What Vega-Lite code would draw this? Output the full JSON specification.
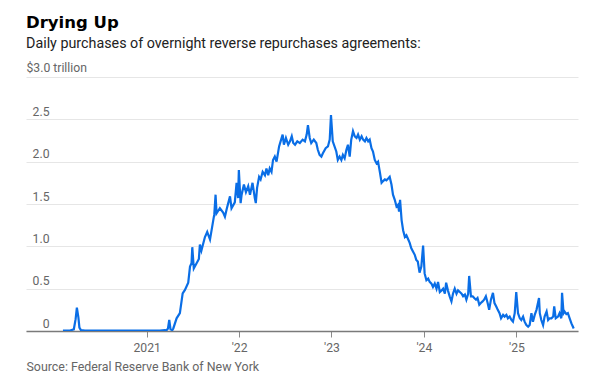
{
  "$schema": "https://vega.github.io/schema/vega-lite/v6.json",
  "width": 552,
  "height": 254,
  "autosize": {"type": "none"},
  "padding": {"left": 26, "top": 77, "right": 25, "bottom": 51},
  "background": "#ffffff",
  "config": {"view": {"stroke": null}},
  "title": {
    "text": "Drying Up",
    "subtitle": "Daily purchases of overnight reverse repurchases agreements:",
    "anchor": "start",
    "frame": "group",
    "font": "DejaVu Sans",
    "fontSize": 16.5,
    "fontWeight": "bold",
    "color": "#000000",
    "subtitleFont": "Roboto",
    "subtitleFontSize": 14.3,
    "subtitleColor": "#222222",
    "subtitlePadding": 6,
    "offset": 10
  },
  "data": {
    "values": [
      {"date": "2020-02-05", "v": 0.004},
      {"date": "2020-03-04", "v": 0.006},
      {"date": "2020-03-19", "v": 0.02},
      {"date": "2020-03-26", "v": 0.14},
      {"date": "2020-03-31", "v": 0.275},
      {"date": "2020-04-06", "v": 0.16},
      {"date": "2020-04-10", "v": 0.04},
      {"date": "2020-04-16", "v": 0.01},
      {"date": "2020-05-02", "v": 0.006},
      {"date": "2020-06-11", "v": 0.005},
      {"date": "2020-08-09", "v": 0.004},
      {"date": "2020-10-07", "v": 0.005},
      {"date": "2020-12-05", "v": 0.006},
      {"date": "2021-01-14", "v": 0.005},
      {"date": "2021-02-22", "v": 0.006},
      {"date": "2021-03-14", "v": 0.01},
      {"date": "2021-03-20", "v": 0.008},
      {"date": "2021-03-26", "v": 0.03},
      {"date": "2021-03-31", "v": 0.13},
      {"date": "2021-04-05", "v": 0.02},
      {"date": "2021-04-12", "v": 0.01},
      {"date": "2021-04-16", "v": 0.03},
      {"date": "2021-04-29", "v": 0.15},
      {"date": "2021-05-12", "v": 0.21},
      {"date": "2021-05-23", "v": 0.445},
      {"date": "2021-06-01", "v": 0.485},
      {"date": "2021-06-14", "v": 0.57},
      {"date": "2021-06-21", "v": 0.76},
      {"date": "2021-06-27", "v": 0.80},
      {"date": "2021-06-30", "v": 0.99},
      {"date": "2021-07-06", "v": 0.74},
      {"date": "2021-07-17", "v": 0.80},
      {"date": "2021-07-26", "v": 0.85},
      {"date": "2021-07-30", "v": 1.02},
      {"date": "2021-08-05", "v": 0.95},
      {"date": "2021-08-19", "v": 1.11},
      {"date": "2021-08-28", "v": 1.17},
      {"date": "2021-09-08", "v": 1.08},
      {"date": "2021-09-21", "v": 1.31},
      {"date": "2021-09-25", "v": 1.38},
      {"date": "2021-09-30", "v": 1.61},
      {"date": "2021-10-04", "v": 1.39},
      {"date": "2021-10-17", "v": 1.45},
      {"date": "2021-10-30", "v": 1.40},
      {"date": "2021-11-06", "v": 1.35},
      {"date": "2021-11-13", "v": 1.44},
      {"date": "2021-11-26", "v": 1.59},
      {"date": "2021-12-02", "v": 1.45},
      {"date": "2021-12-15", "v": 1.52},
      {"date": "2021-12-22", "v": 1.75},
      {"date": "2021-12-28", "v": 1.57},
      {"date": "2021-12-31", "v": 1.90},
      {"date": "2022-01-07", "v": 1.51},
      {"date": "2022-01-11", "v": 1.61},
      {"date": "2022-01-20", "v": 1.73},
      {"date": "2022-01-28", "v": 1.64},
      {"date": "2022-02-06", "v": 1.71},
      {"date": "2022-02-13", "v": 1.61},
      {"date": "2022-02-23", "v": 1.75},
      {"date": "2022-03-04", "v": 1.57},
      {"date": "2022-03-08", "v": 1.51},
      {"date": "2022-03-13", "v": 1.69},
      {"date": "2022-03-21", "v": 1.82},
      {"date": "2022-03-27", "v": 1.79},
      {"date": "2022-04-04", "v": 1.88},
      {"date": "2022-04-13", "v": 1.84},
      {"date": "2022-04-19", "v": 1.92},
      {"date": "2022-04-26", "v": 1.84},
      {"date": "2022-05-02", "v": 1.92},
      {"date": "2022-05-09", "v": 1.88},
      {"date": "2022-05-15", "v": 2.02},
      {"date": "2022-05-22", "v": 2.06},
      {"date": "2022-05-29", "v": 2.00},
      {"date": "2022-06-08", "v": 2.18},
      {"date": "2022-06-14", "v": 2.24},
      {"date": "2022-06-22", "v": 2.32},
      {"date": "2022-06-27", "v": 2.20},
      {"date": "2022-07-05", "v": 2.28},
      {"date": "2022-07-14", "v": 2.20},
      {"date": "2022-07-21", "v": 2.24},
      {"date": "2022-07-28", "v": 2.30},
      {"date": "2022-08-03", "v": 2.22},
      {"date": "2022-08-10", "v": 2.20},
      {"date": "2022-08-19", "v": 2.24},
      {"date": "2022-08-29", "v": 2.22},
      {"date": "2022-09-09", "v": 2.26},
      {"date": "2022-09-18", "v": 2.24},
      {"date": "2022-09-25", "v": 2.32},
      {"date": "2022-09-30", "v": 2.43},
      {"date": "2022-10-07", "v": 2.28},
      {"date": "2022-10-13", "v": 2.22},
      {"date": "2022-10-23", "v": 2.26},
      {"date": "2022-11-02", "v": 2.22},
      {"date": "2022-11-08", "v": 2.14},
      {"date": "2022-11-15", "v": 2.08},
      {"date": "2022-11-22", "v": 2.06},
      {"date": "2022-11-28", "v": 2.10},
      {"date": "2022-12-09", "v": 2.16},
      {"date": "2022-12-18", "v": 2.18},
      {"date": "2022-12-25", "v": 2.26},
      {"date": "2022-12-30", "v": 2.55},
      {"date": "2023-01-06", "v": 2.24},
      {"date": "2023-01-20", "v": 2.12},
      {"date": "2023-01-26", "v": 2.02},
      {"date": "2023-02-02", "v": 2.06},
      {"date": "2023-02-09", "v": 2.02},
      {"date": "2023-02-15", "v": 2.08},
      {"date": "2023-02-22", "v": 2.04},
      {"date": "2023-03-01", "v": 2.14},
      {"date": "2023-03-07", "v": 2.20},
      {"date": "2023-03-14", "v": 2.06},
      {"date": "2023-03-20", "v": 2.26},
      {"date": "2023-03-27", "v": 2.36},
      {"date": "2023-04-03", "v": 2.30},
      {"date": "2023-04-10", "v": 2.28},
      {"date": "2023-04-16", "v": 2.32},
      {"date": "2023-04-23", "v": 2.26},
      {"date": "2023-04-30", "v": 2.30},
      {"date": "2023-05-06", "v": 2.26},
      {"date": "2023-05-13", "v": 2.24},
      {"date": "2023-05-19", "v": 2.28},
      {"date": "2023-05-26", "v": 2.24},
      {"date": "2023-06-01", "v": 2.26},
      {"date": "2023-06-08", "v": 2.16},
      {"date": "2023-06-14", "v": 2.12},
      {"date": "2023-06-21", "v": 2.02},
      {"date": "2023-06-28", "v": 1.98},
      {"date": "2023-07-04", "v": 2.00},
      {"date": "2023-07-11", "v": 1.88},
      {"date": "2023-07-18", "v": 1.75},
      {"date": "2023-07-24", "v": 1.77},
      {"date": "2023-07-31", "v": 1.79},
      {"date": "2023-08-06", "v": 1.78},
      {"date": "2023-08-13", "v": 1.80},
      {"date": "2023-08-19", "v": 1.82},
      {"date": "2023-08-26", "v": 1.73},
      {"date": "2023-09-01", "v": 1.61},
      {"date": "2023-09-08", "v": 1.55},
      {"date": "2023-09-15", "v": 1.47},
      {"date": "2023-09-21", "v": 1.49},
      {"date": "2023-09-25", "v": 1.41},
      {"date": "2023-09-29", "v": 1.55},
      {"date": "2023-10-05", "v": 1.31},
      {"date": "2023-10-11", "v": 1.19},
      {"date": "2023-10-18", "v": 1.11},
      {"date": "2023-10-24", "v": 1.13},
      {"date": "2023-10-30", "v": 1.09},
      {"date": "2023-11-06", "v": 1.04},
      {"date": "2023-11-12", "v": 0.98},
      {"date": "2023-11-19", "v": 0.94},
      {"date": "2023-11-26", "v": 0.90},
      {"date": "2023-12-02", "v": 0.84},
      {"date": "2023-12-08", "v": 0.82},
      {"date": "2023-12-15", "v": 0.69},
      {"date": "2023-12-22", "v": 0.76},
      {"date": "2023-12-29", "v": 1.01},
      {"date": "2024-01-04", "v": 0.68},
      {"date": "2024-01-11", "v": 0.60},
      {"date": "2024-01-18", "v": 0.62},
      {"date": "2024-01-24", "v": 0.58},
      {"date": "2024-01-31", "v": 0.56},
      {"date": "2024-02-06", "v": 0.52},
      {"date": "2024-02-13", "v": 0.56},
      {"date": "2024-02-20", "v": 0.50},
      {"date": "2024-02-26", "v": 0.58},
      {"date": "2024-03-04", "v": 0.46},
      {"date": "2024-03-11", "v": 0.48},
      {"date": "2024-03-17", "v": 0.50},
      {"date": "2024-03-24", "v": 0.44},
      {"date": "2024-03-29", "v": 0.57},
      {"date": "2024-04-05", "v": 0.48},
      {"date": "2024-04-12", "v": 0.41},
      {"date": "2024-04-19", "v": 0.35},
      {"date": "2024-04-25", "v": 0.44},
      {"date": "2024-05-02", "v": 0.50},
      {"date": "2024-05-09", "v": 0.44},
      {"date": "2024-05-15", "v": 0.48},
      {"date": "2024-05-22", "v": 0.46},
      {"date": "2024-05-29", "v": 0.44},
      {"date": "2024-06-04", "v": 0.41},
      {"date": "2024-06-11", "v": 0.43},
      {"date": "2024-06-17", "v": 0.37},
      {"date": "2024-06-24", "v": 0.44},
      {"date": "2024-06-28", "v": 0.65},
      {"date": "2024-07-05", "v": 0.41},
      {"date": "2024-07-12", "v": 0.41},
      {"date": "2024-07-18", "v": 0.39},
      {"date": "2024-07-25", "v": 0.37},
      {"date": "2024-07-31", "v": 0.39},
      {"date": "2024-08-07", "v": 0.31},
      {"date": "2024-08-13", "v": 0.33},
      {"date": "2024-08-20", "v": 0.35},
      {"date": "2024-08-26", "v": 0.37},
      {"date": "2024-09-02", "v": 0.41},
      {"date": "2024-09-09", "v": 0.33},
      {"date": "2024-09-15", "v": 0.25},
      {"date": "2024-09-22", "v": 0.37},
      {"date": "2024-09-30", "v": 0.45},
      {"date": "2024-10-06", "v": 0.33},
      {"date": "2024-10-13", "v": 0.29},
      {"date": "2024-10-19", "v": 0.25},
      {"date": "2024-10-26", "v": 0.21},
      {"date": "2024-11-01", "v": 0.15},
      {"date": "2024-11-09", "v": 0.19},
      {"date": "2024-11-15", "v": 0.17},
      {"date": "2024-11-22", "v": 0.19},
      {"date": "2024-11-28", "v": 0.15},
      {"date": "2024-12-05", "v": 0.17},
      {"date": "2024-12-12", "v": 0.13},
      {"date": "2024-12-18", "v": 0.11},
      {"date": "2024-12-25", "v": 0.21},
      {"date": "2024-12-31", "v": 0.46},
      {"date": "2025-01-07", "v": 0.21},
      {"date": "2025-01-14", "v": 0.15},
      {"date": "2025-01-20", "v": 0.13},
      {"date": "2025-01-27", "v": 0.17},
      {"date": "2025-02-02", "v": 0.11},
      {"date": "2025-02-09", "v": 0.07},
      {"date": "2025-02-16", "v": 0.05},
      {"date": "2025-02-22", "v": 0.07},
      {"date": "2025-03-01", "v": 0.21},
      {"date": "2025-03-07", "v": 0.11},
      {"date": "2025-03-14", "v": 0.19},
      {"date": "2025-03-21", "v": 0.25},
      {"date": "2025-03-31", "v": 0.39},
      {"date": "2025-04-03", "v": 0.21},
      {"date": "2025-04-09", "v": 0.13},
      {"date": "2025-04-16", "v": 0.07},
      {"date": "2025-04-22", "v": 0.17},
      {"date": "2025-04-30", "v": 0.23},
      {"date": "2025-05-06", "v": 0.13},
      {"date": "2025-05-12", "v": 0.15},
      {"date": "2025-05-19", "v": 0.15},
      {"date": "2025-05-26", "v": 0.17},
      {"date": "2025-05-30", "v": 0.29},
      {"date": "2025-06-05", "v": 0.15},
      {"date": "2025-06-14", "v": 0.17},
      {"date": "2025-06-20", "v": 0.21},
      {"date": "2025-06-27", "v": 0.15},
      {"date": "2025-06-30", "v": 0.45},
      {"date": "2025-07-06", "v": 0.21},
      {"date": "2025-07-10", "v": 0.23},
      {"date": "2025-07-17", "v": 0.20},
      {"date": "2025-07-23", "v": 0.21},
      {"date": "2025-07-30", "v": 0.15},
      {"date": "2025-08-06", "v": 0.09},
      {"date": "2025-08-12", "v": 0.05},
      {"date": "2025-08-15", "v": 0.03}
    ]
  },
  "mark": {"type": "line", "color": "#0a6ee6", "strokeWidth": 2.2, "clip": true},
  "encoding": {
    "x": {
      "field": "date",
      "type": "temporal",
      "scale": {"type": "utc", "domain": ["2019-09-12", "2025-09-01"]},
      "axis": {
        "values": [
          {"year": 2021, "month": 1, "date": 1, "utc": true},
          {"year": 2022, "month": 1, "date": 1, "utc": true},
          {"year": 2023, "month": 1, "date": 1, "utc": true},
          {"year": 2024, "month": 1, "date": 1, "utc": true},
          {"year": 2025, "month": 1, "date": 1, "utc": true}
        ],
        "labelExpr": "utcFormat(datum.value, '%Y') == '2021' ? '2021' : \"'\" + utcFormat(datum.value, '%y')",
        "grid": false,
        "domain": true,
        "domainColor": "#7a7a7a",
        "domainWidth": 1.5,
        "ticks": true,
        "tickSize": 6,
        "tickColor": "#8a8a8a",
        "tickWidth": 1,
        "labelPadding": 4,
        "labelFont": "Roboto",
        "labelFontSize": 12.2,
        "labelColor": "#666666",
        "title": "Source: Federal Reserve Bank of New York",
        "titleFont": "Roboto",
        "titleFontSize": 12.4,
        "titleFontWeight": "normal",
        "titleColor": "#666666",
        "titleAlign": "left",
        "titleAnchor": "start",
        "titleBaseline": "alphabetic",
        "titleX": 0,
        "titleY": 39
      }
    },
    "y": {
      "field": "v",
      "type": "quantitative",
      "scale": {"domain": [0, 3], "nice": false, "zero": true},
      "axis": {
        "values": [0, 0.5, 1, 1.5, 2, 2.5, 3],
        "labelExpr": "datum.value == 0 ? '0' : (datum.value == 3 ? '' : format(datum.value, '.1f'))",
        "grid": true,
        "gridColor": "#e6e6e6",
        "gridWidth": 1,
        "domain": false,
        "ticks": false,
        "tickSize": 0,
        "labelAlign": "right",
        "labelBaseline": "alphabetic",
        "labelPadding": -23,
        "labelOffset": -4,
        "labelFont": "Roboto",
        "labelFontSize": 12.2,
        "labelColor": "#666666",
        "title": "$3.0 trillion",
        "titleAngle": 0,
        "titleAlign": "left",
        "titleBaseline": "alphabetic",
        "titleX": 0,
        "titleY": -5.5,
        "titleFont": "Roboto",
        "titleFontSize": 12.2,
        "titleFontWeight": "normal",
        "titleColor": "#666666"
      }
    }
  }
}
